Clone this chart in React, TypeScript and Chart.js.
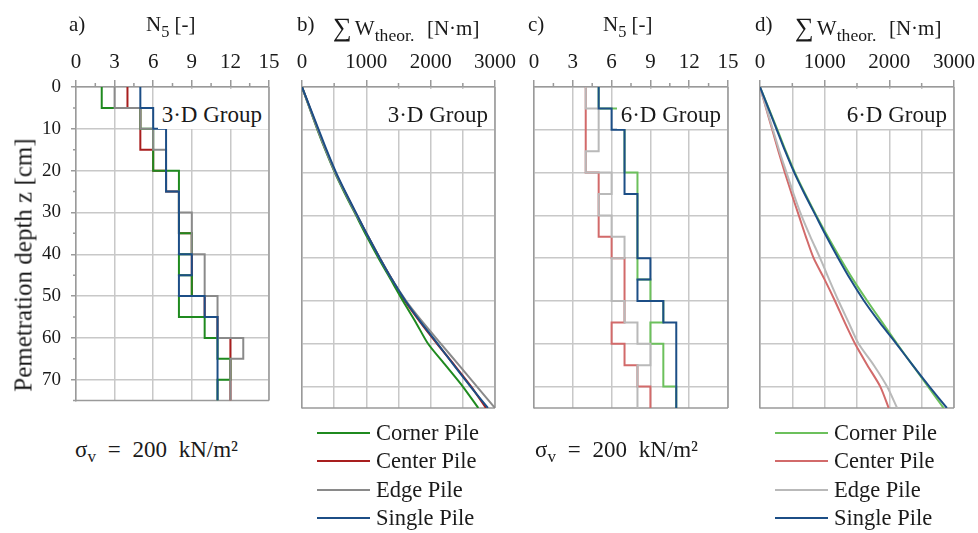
import React, { useEffect, useRef } from 'react';
import { Chart, registerables } from 'chart.js';

Chart.register(...registerables);

const FONT = '"Liberation Serif", "Times New Roman", Times, serif';
const TEXT = '#1a1a1a';
const GRID = '#c8c8c8';
const BORDER = '#9a9a9a';

// ---------- data ----------
const depthBounds = [0, 5, 10, 15, 20, 25, 30, 35, 40, 45, 50, 55, 60, 65, 70, 75];
const depthCurve = [0, 5, 10, 15, 20, 25, 30, 35, 40, 45, 50, 55, 60, 65, 70, 75];

// a) N5, 3·D group (value per 5 cm interval)
const n5Corner3D = [2, 5, 6, 6, 8, 8, 8, 9, 8, 9, 8, 10, 11, 12, 11];
const n5Center3D = [4, 5, 5, 6, 7, 8, 8, 9, 9, 9, 10, 11, 12, 12, 12];
const n5Edge3D = [3, 5, 6, 7, 7, 8, 9, 9, 10, 10, 11, 11, 13, 12, 12];
const n5Single = [5, 6, 7, 7, 7, 8, 8, 8, 9, 8, 10, 11, 11, 11, 11];

// c) N5, 6·D group
const n5Corner6D = [5, 7, 7, 7, 8, 8, 8, 8, 8, 9, 10, 9, 10, 10, 11];
const n5Center6D = [4, 4, 4, 4, 5, 5, 5, 6, 7, 7, 7, 6, 7, 8, 9];
const n5Edge6D = [4, 5, 5, 4, 6, 5, 6, 7, 6, 6, 7, 8, 9, 8, 8];

// b) cumulative work, 3·D group [N·m]
const wCorner3D = [0, 120, 240, 370, 510, 670, 840, 1010, 1190, 1380, 1570, 1770, 1960, 2230, 2500, 2740];
const wCenter3D = [0, 125, 250, 380, 520, 685, 855, 1030, 1210, 1400, 1600, 1840, 2100, 2370, 2630, 2860];
const wEdge3D = [0, 120, 245, 375, 515, 680, 850, 1030, 1210, 1400, 1620, 1880, 2160, 2440, 2720, 3000];
const wSingle = [0, 130, 260, 390, 530, 690, 860, 1030, 1210, 1400, 1610, 1850, 2110, 2360, 2620, 2890];

// d) cumulative work, 6·D group [N·m]
const wCorner6D = [0, 135, 270, 400, 540, 700, 870, 1050, 1240, 1440, 1660, 1890, 2120, 2360, 2600, 2840];
const wCenter6D = [0, 95, 190, 285, 385, 490, 600, 710, 830, 1000, 1160, 1310, 1470, 1660, 1860, 1990];
const wEdge6D = [0, 100, 200, 300, 410, 520, 640, 780, 930, 1070, 1215, 1370, 1525, 1760, 1965, 2120];

const seriesNames = ['Corner Pile', 'Center Pile', 'Edge Pile', 'Single Pile'];
const colors3D = ['#1f8a1f', '#a81e1e', '#8a8a8a', '#1c4e86'];
const colors6D = ['#6cc05c', '#d26a6a', '#b9b9b9', '#1c4e86'];

// ---------- layout ----------
const AREA_TOP = 87;
const AREA_BOTTOM = 408;
const Y0 = 30;
const YAXIS_W = 70;
const PAD_R = 30;
const PAD_B = 14;

type Series = { label: string; color: string; values: number[] };
type PanelDef = {
  left: number;
  right: number;
  kind: 'step' | 'curve';
  xMax: number;
  xTick: number;
  xLabel: number;
  xGrid: number;
  showY: boolean;
  series: Series[]; // first = drawn on top
};

const isMult = (v: number, s: number) => Math.abs(v / s - Math.round(v / s)) < 1e-6;

function makeSeries(values: number[][], cols: string[]): Series[] {
  // Chart.js draws dataset 0 last (on top): single, edge, corner, center
  const order = [3, 2, 0, 1];
  return order.map((i) => ({ label: seriesNames[i], color: cols[i], values: values[i] }));
}

const panels: PanelDef[] = [
  {
    left: 76, right: 269, kind: 'step', xMax: 15, xTick: 1.5, xLabel: 3, xGrid: 3, showY: true,
    series: makeSeries([n5Corner3D, n5Center3D, n5Edge3D, n5Single], colors3D),
  },
  {
    left: 302, right: 495, kind: 'curve', xMax: 3000, xTick: 500, xLabel: 1000, xGrid: 500, showY: false,
    series: makeSeries([wCorner3D, wCenter3D, wEdge3D, wSingle], colors3D),
  },
  {
    left: 534, right: 728, kind: 'step', xMax: 15, xTick: 1.5, xLabel: 3, xGrid: 3, showY: false,
    series: makeSeries([n5Corner6D, n5Center6D, n5Edge6D, n5Single], colors6D),
  },
  {
    left: 760, right: 954, kind: 'curve', xMax: 3000, xTick: 500, xLabel: 1000, xGrid: 500, showY: false,
    series: makeSeries([wCorner6D, wCenter6D, wEdge6D, wSingle], colors6D),
  },
];

function PanelChart({ def }: { def: PanelDef }) {
  const ref = useRef<HTMLCanvasElement | null>(null);
  const width = def.right - def.left + YAXIS_W + PAD_R;
  const height = AREA_BOTTOM - Y0 + PAD_B;

  useEffect(() => {
    if (!ref.current) return;
    const datasets = def.series.map((s) => {
      let data: { x: number; y: number }[];
      if (def.kind === 'step') {
        data = s.values.map((v, i) => ({ x: v, y: depthBounds[i] }));
        data.push({ x: s.values[s.values.length - 1], y: depthBounds[depthBounds.length - 1] });
      } else {
        data = s.values.map((v, i) => ({ x: v, y: depthCurve[i] }));
      }
      return {
        label: s.label,
        data,
        borderColor: s.color,
        backgroundColor: s.color,
        borderWidth: 2,
        pointRadius: 0,
        fill: false,
        stepped: def.kind === 'step' ? ('after' as const) : false,
        tension: def.kind === 'curve' ? 0.25 : 0,
      };
    });

    const framePlugin = {
      id: 'frame',
      beforeDatasetsDraw(chart: any) {
        const { ctx, chartArea } = chart;
        const xs = chart.scales.x;
        const ys = chart.scales.y;
        ctx.save();
        ctx.strokeStyle = BORDER;
        ctx.lineWidth = 1.5;
        ctx.beginPath();
        ctx.moveTo(chartArea.right, chartArea.top);
        ctx.lineTo(chartArea.right, chartArea.bottom);
        ctx.moveTo(chartArea.left, chartArea.bottom);
        ctx.lineTo(chartArea.right, chartArea.bottom);
        xs.ticks.forEach((t: any) => {
          if (!isMult(t.value, def.xLabel)) {
            const px = xs.getPixelForValue(t.value);
            ctx.moveTo(px, chartArea.top);
            ctx.lineTo(px, chartArea.top - 4);
          }
        });
        if (def.showY) {
          ys.ticks.forEach((t: any) => {
            if (!isMult(t.value, 10)) {
              const py = ys.getPixelForValue(t.value);
              ctx.moveTo(chartArea.left, py);
              ctx.lineTo(chartArea.left - 3, py);
            }
          });
        }
        ctx.stroke();
        ctx.restore();
      },
    };

    const chart = new Chart(ref.current, {
      type: 'line',
      data: { datasets: datasets as any },
      options: {
        animation: false,
        responsive: false,
        devicePixelRatio: 1,
        layout: { padding: { left: 0, right: PAD_R, top: 0, bottom: PAD_B } },
        plugins: { legend: { display: false }, tooltip: { enabled: false } },
        elements: { point: { radius: 0 } },
        scales: {
          x: {
            type: 'linear',
            position: 'top',
            min: 0,
            max: def.xMax,
            ticks: {
              stepSize: def.xTick,
              autoSkip: false,
              maxRotation: 0,
              minRotation: 0,
              padding: 5,
              color: TEXT,
              font: { family: FONT, size: 21 },
              callback: (v: any) => (isMult(Number(v), def.xLabel) ? String(Math.round(Number(v))) : ''),
            },
            grid: {
              color: (c: any) => (c.tick && isMult(c.tick.value, def.xGrid) ? GRID : 'rgba(0,0,0,0)'),
              lineWidth: 1.5,
              tickLength: 7,
              tickColor: (c: any) => (c.tick && isMult(c.tick.value, def.xLabel) ? BORDER : 'rgba(0,0,0,0)'),
              tickWidth: 1.5,
            },
            border: { display: true, color: BORDER, width: 1.5 },
            afterFit: (s: any) => {
              s.height = AREA_TOP - Y0;
            },
          },
          y: {
            type: 'linear',
            reverse: true,
            min: 0,
            max: 75,
            ticks: {
              stepSize: 5,
              autoSkip: false,
              display: def.showY,
              padding: 10,
              color: TEXT,
              font: { family: FONT, size: 19 },
              callback: (v: any) => (isMult(Number(v), 10) ? String(v) : ''),
            },
            grid: {
              color: (c: any) => (c.tick && isMult(c.tick.value, 10) ? GRID : 'rgba(0,0,0,0)'),
              lineWidth: 1.5,
              drawTicks: def.showY,
              tickLength: 5,
              tickColor: (c: any) => (c.tick && isMult(c.tick.value, 10) ? BORDER : 'rgba(0,0,0,0)'),
              tickWidth: 1.5,
            },
            border: { display: true, color: BORDER, width: 1.5 },
            afterFit: (s: any) => {
              s.width = YAXIS_W;
            },
          },
        },
      },
      plugins: [framePlugin],
    });
    return () => chart.destroy();
  }, [def]);

  return (
    <canvas
      ref={ref}
      width={width}
      height={height}
      style={{ position: 'absolute', left: def.left - YAXIS_W, top: Y0, width, height }}
    />
  );
}

function Txt({ x, base, size, children, style }: { x: number; base: number; size: number; children: any; style?: any }) {
  return (
    <div
      style={{
        position: 'absolute',
        left: x,
        top: base - 0.8375 * size,
        fontSize: size,
        lineHeight: '1',
        whiteSpace: 'nowrap',
        color: TEXT,
        ...style,
      }}
    >
      {children}
    </div>
  );
}

const Sub = ({ children, size = 0.78 }: { children: any; size?: number }) => (
  <span style={{ fontSize: size + 'em', position: 'relative', top: '0.32em', wordSpacing: 'normal' }}>{children}</span>
);

function GroupLabel({ right, text }: { right: number; text: string }) {
  const size = 23;
  return (
    <div
      style={{
        position: 'absolute',
        right: 978 - (right - 1),
        top: 88.5,
        height: 40,
        paddingLeft: 4,
        paddingRight: 6,
        background: '#fff',
        boxSizing: 'border-box',
      }}
    >
      <div style={{ fontSize: size, lineHeight: '1', paddingTop: 122 - 88.5 - 0.8375 * size, whiteSpace: 'nowrap', color: TEXT }}>
        {text}
      </div>
    </div>
  );
}

function Legend({ x, cols }: { x: number; cols: string[] }) {
  const lineYs = [433, 461, 490, 518];
  const bases = [440.5, 469, 497.5, 526];
  return (
    <>
      {seriesNames.map((n, i) => (
        <React.Fragment key={n}>
          <div style={{ position: 'absolute', left: x, top: lineYs[i] - 1, width: 53, height: 2, background: cols[i] }} />
          <Txt x={x + 59} base={bases[i]} size={22.5}>
            {n}
          </Txt>
        </React.Fragment>
      ))}
    </>
  );
}

function WorkTitle({ x }: { x: number }) {
  return (
    <Txt x={x} base={32} size={21}>
      <span style={{ fontSize: '1.25em', position: 'relative', top: '0.02em', marginRight: '0.12em' }}>∑</span>
      W<Sub size={0.84}>theor.</Sub>
      <span style={{ marginLeft: '0.6em' }}>[N·m]</span>
    </Txt>
  );
}

function StressNote({ x }: { x: number }) {
  return (
    <Txt x={x} base={457} size={23} style={{ wordSpacing: '6px' }}>
      σ<Sub size={0.74}>v</Sub> = 200 kN/m²
    </Txt>
  );
}

export default function App() {
  return (
    <div
      style={{
        position: 'fixed',
        left: 0,
        top: 0,
        width: 978,
        height: 533,
        background: '#fff',
        fontFamily: FONT,
        overflow: 'hidden',
      }}
    >
      {panels.map((p, i) => (
        <PanelChart key={i} def={p} />
      ))}

      {/* panel titles */}
      <Txt x={69} base={32} size={21}>a)</Txt>
      <Txt x={146} base={32} size={21}>
        N<Sub>5</Sub> [-]
      </Txt>
      <Txt x={297} base={32} size={21}>b)</Txt>
      <WorkTitle x={333} />
      <Txt x={528} base={32} size={21}>c)</Txt>
      <Txt x={603} base={32} size={21}>
        N<Sub>5</Sub> [-]
      </Txt>
      <Txt x={755} base={32} size={21}>d)</Txt>
      <WorkTitle x={795} />

      {/* group labels */}
      <GroupLabel right={269} text="3·D Group" />
      <GroupLabel right={495} text="3·D Group" />
      <GroupLabel right={728} text="6·D Group" />
      <GroupLabel right={954} text="6·D Group" />

      {/* y axis title */}
      <div
        style={{
          position: 'absolute',
          left: 22.5,
          top: 264.5,
          transform: 'translate(-50%, -50%) rotate(-90deg)',
          fontSize: 25,
          lineHeight: '1',
          whiteSpace: 'nowrap',
          color: TEXT,
        }}
      >
        Pemetration depth z [cm]
      </div>

      {/* stress notes */}
      <StressNote x={75} />
      <StressNote x={535} />

      <Legend x={317} cols={colors3D} />
      <Legend x={775} cols={colors6D} />
    </div>
  );
}
